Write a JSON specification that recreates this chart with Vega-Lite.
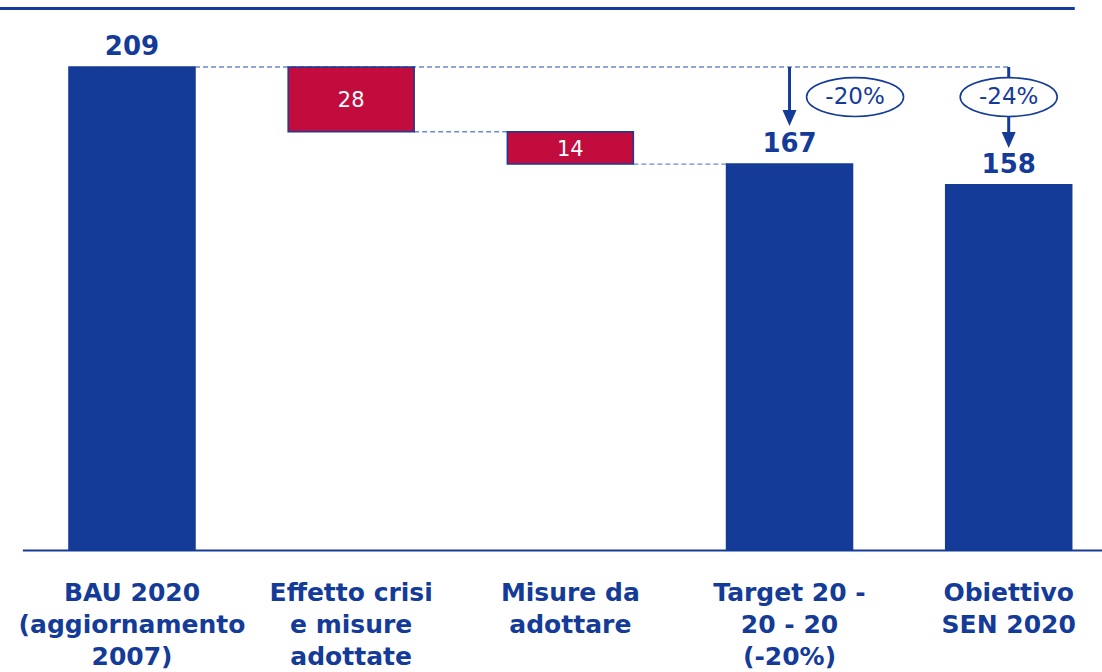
{
  "$schema": "https://vega.github.io/schema/vega-lite/v6.json",
  "width": 1102,
  "height": 550,
  "autosize": {"type": "none"},
  "padding": {"left": 0, "top": 0, "right": 0, "bottom": 122},
  "background": "white",
  "config": {"view": {"stroke": null}, "font": "DejaVu Sans"},
  "datasets": {
    "bars": [
      {"cat": "BAU 2020|(aggiornamento|2007)", "start": 0, "end": 209, "kind": "total", "label": "209"},
      {"cat": "Effetto crisi|e misure|adottate", "start": 181, "end": 209, "kind": "delta", "label": "28"},
      {"cat": "Misure da|adottare", "start": 167, "end": 181, "kind": "delta", "label": "14"},
      {"cat": "Target 20 -|20 - 20|(-20%)", "start": 0, "end": 167, "kind": "total", "label": "167"},
      {"cat": "Obiettivo|SEN 2020", "start": 0, "end": 158, "kind": "total", "label": "158"}
    ]
  },
  "layer": [
    {
      "data": {"values": [{"from": "BAU 2020|(aggiornamento|2007)", "to": "Obiettivo|SEN 2020", "level": 234.3}]},
      "mark": {"type": "rule", "color": "#143B98", "strokeWidth": 3},
      "encoding": {
        "x": {"field": "from", "type": "nominal", "bandPosition": -0.56, "title": null},
        "x2": {"field": "to", "bandPosition": 1.024},
        "y": {"field": "level", "type": "quantitative", "scale": {"domain": [0, 238], "nice": false, "zero": true}, "axis": null}
      }
    },
    {
      "data": {"values": [{"from": "BAU 2020|(aggiornamento|2007)", "to": "Obiettivo|SEN 2020", "level": 209}]},
      "mark": {"type": "rule", "color": "#6F89D2", "strokeWidth": 1.4, "strokeDash": [5, 3]},
      "encoding": {
        "x": {"field": "from", "type": "nominal", "bandPosition": 1, "title": null},
        "x2": {"field": "to", "bandPosition": 0.5},
        "y": {"field": "level", "type": "quantitative"}
      }
    },
    {
      "data": {"values": [
        {"from": "Effetto crisi|e misure|adottate", "to": "Misure da|adottare", "level": 181},
        {"from": "Misure da|adottare", "to": "Target 20 -|20 - 20|(-20%)", "level": 167}
      ]},
      "mark": {"type": "rule", "color": "#6F89D2", "strokeWidth": 1.4, "strokeDash": [5, 3]},
      "encoding": {
        "x": {"field": "from", "type": "nominal", "bandPosition": 1, "title": null},
        "x2": {"field": "to", "bandPosition": 0},
        "y": {"field": "level", "type": "quantitative"}
      }
    },
    {
      "data": {"name": "bars"},
      "mark": {"type": "bar", "stroke": "#143B98", "strokeWidth": 1.5},
      "encoding": {
        "x": {
          "field": "cat", "type": "nominal", "title": null,
          "scale": {
            "domain": ["BAU 2020|(aggiornamento|2007)", "Effetto crisi|e misure|adottate", "Misure da|adottare", "Target 20 -|20 - 20|(-20%)", "Obiettivo|SEN 2020"],
            "range": [22.4, 1118.3],
            "paddingInner": 0.425,
            "paddingOuter": 0.2125
          },
          "axis": {
            "labelExpr": "split(datum.label, '|')",
            "labelFontSize": 25,
            "labelFont": "DejaVu Sans",
            "labelFontWeight": "bold",
            "labelColor": "#143B98",
            "labelLineHeight": 32,
            "labelPadding": 30,
            "labelAngle": 0,
            "labelAlign": "center",
            "labelLimit": 400,
            "labelOverlap": false,
            "labelBaseline": "top",
            "ticks": false,
            "tickSize": 0,
            "domainColor": "#143B98",
            "domainWidth": 2,
            "grid": false
          }
        },
        "y": {"field": "end", "type": "quantitative"},
        "y2": {"field": "start"},
        "color": {"field": "kind", "type": "nominal", "scale": {"domain": ["total", "delta"], "range": ["#143B98", "#C20C3E"]}, "legend": null}
      }
    },
    {
      "data": {"name": "bars"},
      "transform": [{"filter": "datum.kind == 'total'"}],
      "mark": {"type": "text", "fontSize": 26, "fontWeight": "bold", "color": "#143B98", "baseline": "alphabetic", "dy": -12},
      "encoding": {
        "x": {"field": "cat", "type": "nominal", "title": null},
        "y": {"field": "end", "type": "quantitative"},
        "text": {"field": "label"}
      }
    },
    {
      "data": {"name": "bars"},
      "transform": [{"filter": "datum.kind == 'delta'"}, {"calculate": "(datum.start + datum.end) / 2", "as": "mid"}],
      "mark": {"type": "text", "fontSize": 21, "color": "white", "baseline": "middle", "dy": 2},
      "encoding": {
        "x": {"field": "cat", "type": "nominal", "title": null},
        "y": {"field": "mid", "type": "quantitative"},
        "text": {"field": "label"}
      }
    },
    {
      "data": {"values": [
        {"cat": "Target 20 -|20 - 20|(-20%)", "top": 209, "tip": 188},
        {"cat": "Obiettivo|SEN 2020", "top": 209, "tip": 178}
      ]},
      "mark": {"type": "rule", "color": "#143B98", "strokeWidth": 3},
      "encoding": {
        "x": {"field": "cat", "type": "nominal", "title": null},
        "y": {"field": "top", "type": "quantitative"},
        "y2": {"field": "tip"}
      }
    },
    {
      "data": {"values": [
        {"cat": "Target 20 -|20 - 20|(-20%)", "head": 186.9},
        {"cat": "Obiettivo|SEN 2020", "head": 177.4}
      ]},
      "mark": {"type": "point", "shape": "M-0.875,-1L0.875,-1L0,1Z", "size": 256, "filled": true, "color": "#143B98", "opacity": 1, "strokeWidth": 0},
      "encoding": {
        "x": {"field": "cat", "type": "nominal", "title": null},
        "y": {"field": "head", "type": "quantitative"}
      }
    },
    {
      "data": {"values": [{"cat": "Target 20 -|20 - 20|(-20%)", "level": 196, "label": "-20%"}]},
      "encoding": {
        "x": {"field": "cat", "type": "nominal", "bandPosition": 1.02, "title": null},
        "y": {"field": "level", "type": "quantitative"}
      },
      "layer": [
        {"mark": {"type": "point", "shape": "M-1,0A1,0.4 0 1,0 1,0A1,0.4 0 1,0 -1,0Z", "size": 9409, "filled": false, "fill": "white", "fillOpacity": 1, "stroke": "#143B98", "strokeWidth": 1.6, "opacity": 1}},
        {"mark": {"type": "text", "fontSize": 23, "color": "#143B98", "baseline": "middle"}, "encoding": {"text": {"field": "label"}}}
      ]
    },
    {
      "data": {"values": [{"cat": "Obiettivo|SEN 2020", "level": 196, "label": "-24%"}]},
      "encoding": {
        "x": {"field": "cat", "type": "nominal", "bandPosition": 0.5, "title": null},
        "y": {"field": "level", "type": "quantitative"}
      },
      "layer": [
        {"mark": {"type": "point", "shape": "M-1,0A1,0.4 0 1,0 1,0A1,0.4 0 1,0 -1,0Z", "size": 9409, "filled": false, "fill": "white", "fillOpacity": 1, "stroke": "#143B98", "strokeWidth": 1.6, "opacity": 1}},
        {"mark": {"type": "text", "fontSize": 23, "color": "#143B98", "baseline": "middle"}, "encoding": {"text": {"field": "label"}}}
      ]
    }
  ]
}
